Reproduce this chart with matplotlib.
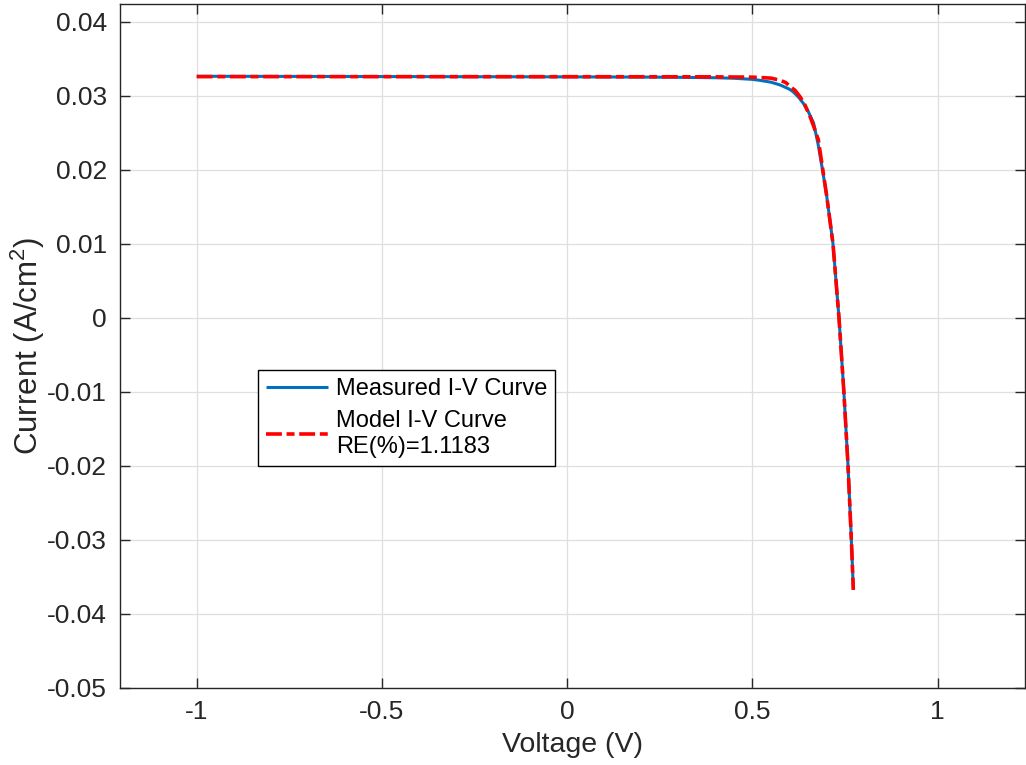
import matplotlib
matplotlib.use("Agg")
import numpy as np
from matplotlib import pyplot as plt
from matplotlib.ticker import FuncFormatter

# measured I-V points
v_meas = [-1.0, -0.5, 0.0, 0.2, 0.3, 0.4, 0.45, 0.5, 0.52, 0.55, 0.575, 0.6,
          0.61, 0.625, 0.638, 0.65, 0.665, 0.677, 0.689, 0.70, 0.7174,
          0.7336, 0.7468, 0.758, 0.767, 0.7724]
i_meas = [0.03260, 0.03256, 0.03252, 0.03249, 0.03246, 0.03240, 0.03233,
          0.03218, 0.03205, 0.03180, 0.03142, 0.03085, 0.03050, 0.02975,
          0.02890, 0.02790, 0.02630, 0.02350, 0.02000, 0.01660, 0.01000,
          0.00000, -0.01000, -0.02000, -0.03000, -0.03680]

# model I-V points
v_model = [-1.0, -0.5, 0.0, 0.3, 0.4, 0.5, 0.55, 0.575, 0.59, 0.602, 0.615,
           0.629, 0.642, 0.656, 0.667, 0.678, 0.689, 0.70, 0.7174, 0.7336,
           0.7468, 0.758, 0.767, 0.7724]
i_model = [0.03255, 0.03255, 0.03254, 0.03253, 0.03252, 0.03248, 0.03235,
           0.03205, 0.03175, 0.03120, 0.03070, 0.02980, 0.02870, 0.02710,
           0.02560, 0.02400, 0.02030, 0.01660, 0.01000, 0.00000, -0.01000,
           -0.02000, -0.03000, -0.03680]

x_ticks = [-1, -0.5, 0, 0.5, 1]
y_ticks = [-0.05, -0.04, -0.03, -0.02, -0.01, 0, 0.01, 0.02, 0.03, 0.04]

label_meas = "Measured I-V Curve"
label_model = "Model I-V Curve\nRE(%)=1.1183"

plt.rcParams["font.family"] = ["Liberation Sans", "DejaVu Sans"]
plt.rcParams["mathtext.fontset"] = "custom"
plt.rcParams["mathtext.rm"] = "Liberation Sans"
plt.rcParams["mathtext.it"] = "Liberation Sans"
plt.rcParams["axes.unicode_minus"] = False

AX_COLOR = "#262626"

fig = plt.figure(figsize=(10.26, 7.65), dpi=100)
ax = fig.add_axes([0.1165, 0.1013, 0.8825, 0.8941])

ax.plot(v_meas, i_meas, color="#0072bd", lw=2.2, label=label_meas,
        solid_capstyle="butt")
line_model, = ax.plot(v_model, i_model, color="red", lw=2.6, label=label_model)
line_model.set_dashes((4.4, 1.3, 2.2, 1.3))

ax.set_xlim(-1.2084, 1.2357)
ax.set_ylim(-0.05, 0.04243)
ax.set_xticks(x_ticks)
ax.set_yticks(y_ticks)
fmt = FuncFormatter(lambda v, pos: "%g" % round(v, 4))
ax.xaxis.set_major_formatter(fmt)
ax.yaxis.set_major_formatter(fmt)

ax.grid(True, color="#dfdfdf", lw=0.9)
ax.set_axisbelow(True)
ax.tick_params(direction="in", length=7, width=1.0, colors=AX_COLOR,
               labelsize=19, top=True, right=True, pad=9)
for spine in ax.spines.values():
    spine.set_color(AX_COLOR)
    spine.set_linewidth(1.0)

ax.set_xlabel("Voltage (V)", fontsize=20.5, color=AX_COLOR, labelpad=6)
ax.set_ylabel("Current (A/cm$^{2}$)", fontsize=22.5, color=AX_COLOR, labelpad=0)

leg = ax.legend(loc="upper left", bbox_to_anchor=(0.153, 0.464),
                borderaxespad=0, fontsize=17, fancybox=False,
                edgecolor="black", framealpha=1, handlelength=2.6,
                handletextpad=0.34, labelspacing=0.42, borderpad=0.35)
leg.get_frame().set_linewidth(1.0)

fig.savefig("out.png", dpi=100)
